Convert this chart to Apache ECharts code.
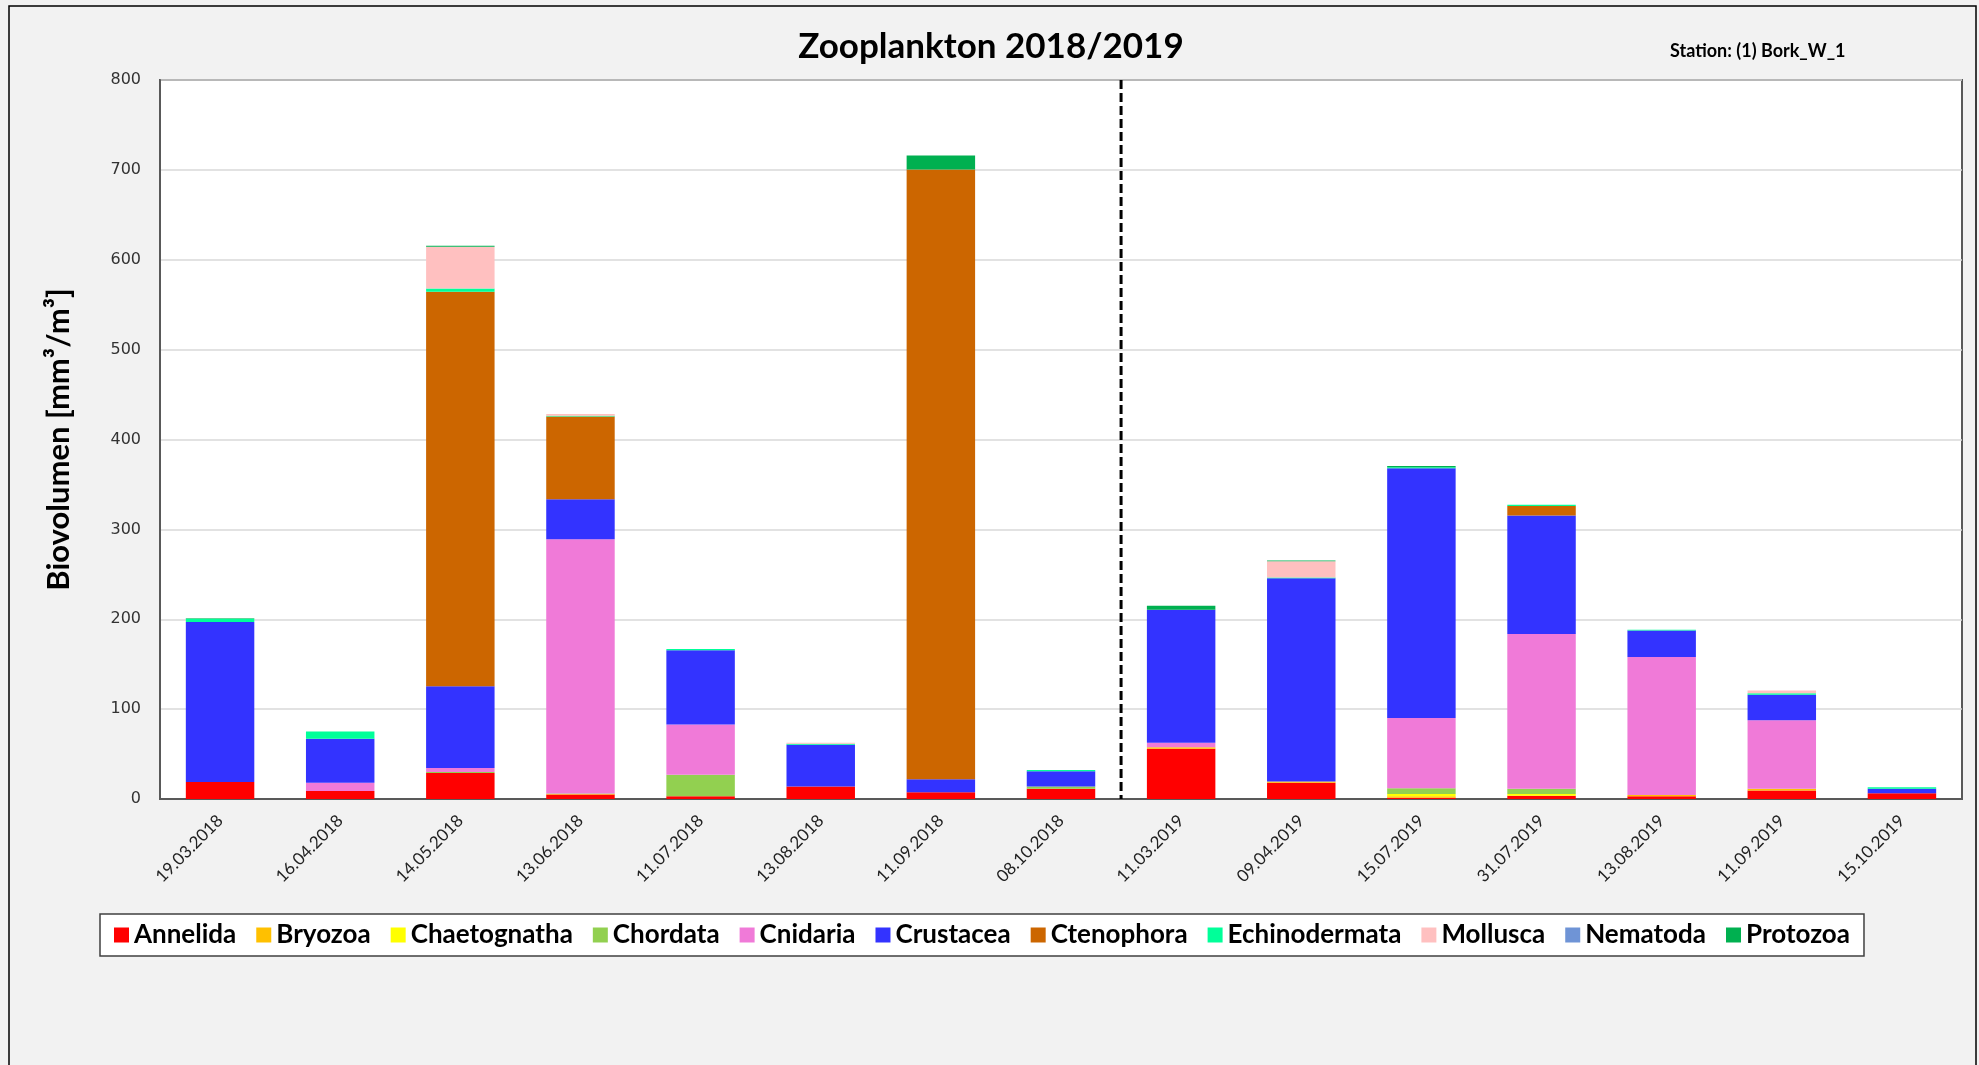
<!DOCTYPE html>
<html>
<head>
<meta charset="utf-8">
<title>Zooplankton 2018/2019</title>
<script src="https://cdn.jsdelivr.net/npm/echarts@6/dist/echarts.min.js"></script>
<style>
  html, body { margin: 0; padding: 0; background: #f2f2f2; }
  #chart { width: 1979px; height: 1065px; }
</style>
</head>
<body>
<div id="chart"></div>
<script>
// sampling dates (category axis)
const dates = ['19.03.2018', '16.04.2018', '14.05.2018', '13.06.2018', '11.07.2018', '13.08.2018', '11.09.2018', '08.10.2018',
  '11.03.2019', '09.04.2019', '15.07.2019', '31.07.2019', '13.08.2019', '11.09.2019', '15.10.2019'];

// biovolume per group [mm³/m³]
const annelida      = [19, 9, 29, 5, 3, 14, 7.5, 11.5, 56, 18, 1.5, 3.5, 3, 9.5, 6.3];
const bryozoa       = [0, 0, 0, 0.5, 0, 0, 0, 0, 1.5, 1.5, 1.5, 0, 1.5, 1.5, 0];
const chaetognatha  = [0, 0, 0, 0, 0, 0, 0, 0, 0, 0, 2.5, 2, 0, 0, 0];
const chordata      = [0, 0, 1, 0.5, 24, 0, 0, 2.5, 0, 0, 6.5, 6, 0, 0.5, 0];
const cnidaria      = [0, 9, 4.5, 283, 56, 0, 0, 0, 5, 0, 78, 172, 153.5, 76, 0];
const crustacea     = [178, 49, 91, 44.5, 82.5, 46.5, 14.5, 17, 148, 226, 278, 132, 29.5, 28.5, 5.2];
const ctenophora    = [0, 0, 439, 92, 0, 0, 678.5, 0, 0, 0, 0, 10.5, 0, 0, 0];
const echinodermata = [3.5, 8, 3.5, 1, 1.5, 1, 0, 1.3, 0, 1, 1, 1.5, 0.8, 1.8, 1.5];
const mollusca      = [0, 0, 46.5, 2, 0, 1, 0, 0, 0, 18, 0, 0, 0, 3, 0];
const nematoda      = [0, 0, 0, 0, 0, 0, 0, 0, 0, 0, 0, 0, 0, 0, 0];
const protozoa      = [0.5, 0, 1, 0, 0, 0, 15.5, 0, 4.5, 1, 1.5, 0, 0, 0, 0];

const groupNames = ['Annelida', 'Bryozoa', 'Chaetognatha', 'Chordata', 'Cnidaria', 'Crustacea',
  'Ctenophora', 'Echinodermata', 'Mollusca', 'Nematoda', 'Protozoa'];
const groupValues = [annelida, bryozoa, chaetognatha, chordata, cnidaria, crustacea,
  ctenophora, echinodermata, mollusca, nematoda, protozoa];
const groupColors = ['#ff0000', '#ffc000', '#ffff00', '#92d050', '#f07ad8', '#3333ff',
  '#cc6600', '#00ff99', '#ffc0c0', '#6f94d6', '#00b050'];

// y axis ticks
const yMin = 0, yMax = 800, yStep = 100;
// separator between the two years sits between these categories
const splitAfter = '08.10.2018', splitBefore = '11.03.2019';

const font = 'Lato, "Open Sans", sans-serif';
let chart = echarts.init(document.getElementById('chart'));

let series = groupNames.map((name, i) => ({
  name: name,
  type: 'bar',
  stack: 'total',
  barWidth: '57%',
  itemStyle: { color: groupColors[i] },
  emphasis: { disabled: true },
  data: groupValues[i]
}));

let option = {
  backgroundColor: '#f2f2f2',
  animation: false,
  title: {
    text: 'Zooplankton 2018/2019',
    left: 986,
    top: 24,
    textAlign: 'center',
    textStyle: { fontFamily: font, fontWeight: 'bold', fontSize: 35, color: '#000' }
  },
  legend: {
    data: groupNames,
    left: 100,
    top: 914,
    icon: 'rect',
    itemWidth: 15,
    itemHeight: 15,
    itemGap: 20,
    padding: [8, 14, 8, 14],
    backgroundColor: '#fff',
    borderColor: '#404040',
    borderWidth: 1.5,
    textStyle: { fontFamily: font, fontWeight: 'bold', fontSize: 26, color: '#000' }
  },
  grid: {
    left: 160,
    right: 17,
    top: 80,
    bottom: 266,
    show: true,
    backgroundColor: '#fff',
    borderColor: '#595959',
    borderWidth: 2,
    containLabel: false
  },
  xAxis: {
    type: 'category',
    data: dates,
    axisLine: { lineStyle: { color: '#595959', width: 2 } },
    axisTick: { show: false },
    axisLabel: {
      rotate: 45,
      margin: 19,
      fontFamily: font,
      fontSize: 17,
      color: '#222'
    }
  },
  yAxis: {
    type: 'value',
    min: yMin,
    max: yMax,
    interval: yStep,
    name: 'Biovolumen [mm³/m³]',
    nameLocation: 'middle',
    nameGap: 86,
    nameTextStyle: { fontFamily: font, fontWeight: 'bold', fontSize: 31, color: '#000' },
    axisLine: { show: true, lineStyle: { color: '#595959', width: 2 } },
    axisTick: { show: false },
    axisLabel: { margin: 19, fontFamily: '"DejaVu Sans", sans-serif', fontSize: 16, color: '#333' },
    splitLine: { lineStyle: { color: '#d9d9d9', width: 1.5 } }
  },
  graphic: [
    {
      id: 'frame',
      type: 'rect',
      silent: true,
      shape: { x: 9, y: 6, width: 1967, height: 1070 },
      style: { fill: null, stroke: '#000', lineWidth: 1.5 }
    },
    {
      id: 'station',
      type: 'text',
      left: 1670,
      top: 42,
      style: {
        text: 'Station: (1) Bork_W_1',
        font: 'bold 18px ' + font,
        fill: '#000'
      }
    }
  ],
  series: series
};

chart.setOption(option);

// dashed separator between 2018 and 2019, placed through the chart's own scales
let x1 = chart.convertToPixel({ xAxisIndex: 0 }, splitAfter);
let x2 = chart.convertToPixel({ xAxisIndex: 0 }, splitBefore);
let yTop = chart.convertToPixel({ yAxisIndex: 0 }, yMax);
let yBottom = chart.convertToPixel({ yAxisIndex: 0 }, yMin);
chart.setOption({
  graphic: [{
    id: 'yearSplit',
    type: 'line',
    silent: true,
    z: 100,
    shape: { x1: (x1 + x2) / 2, y1: yTop, x2: (x1 + x2) / 2, y2: yBottom },
    style: { stroke: '#000', lineWidth: 3, lineDash: [9, 4] }
  }]
});
</script>
</body>
</html>
